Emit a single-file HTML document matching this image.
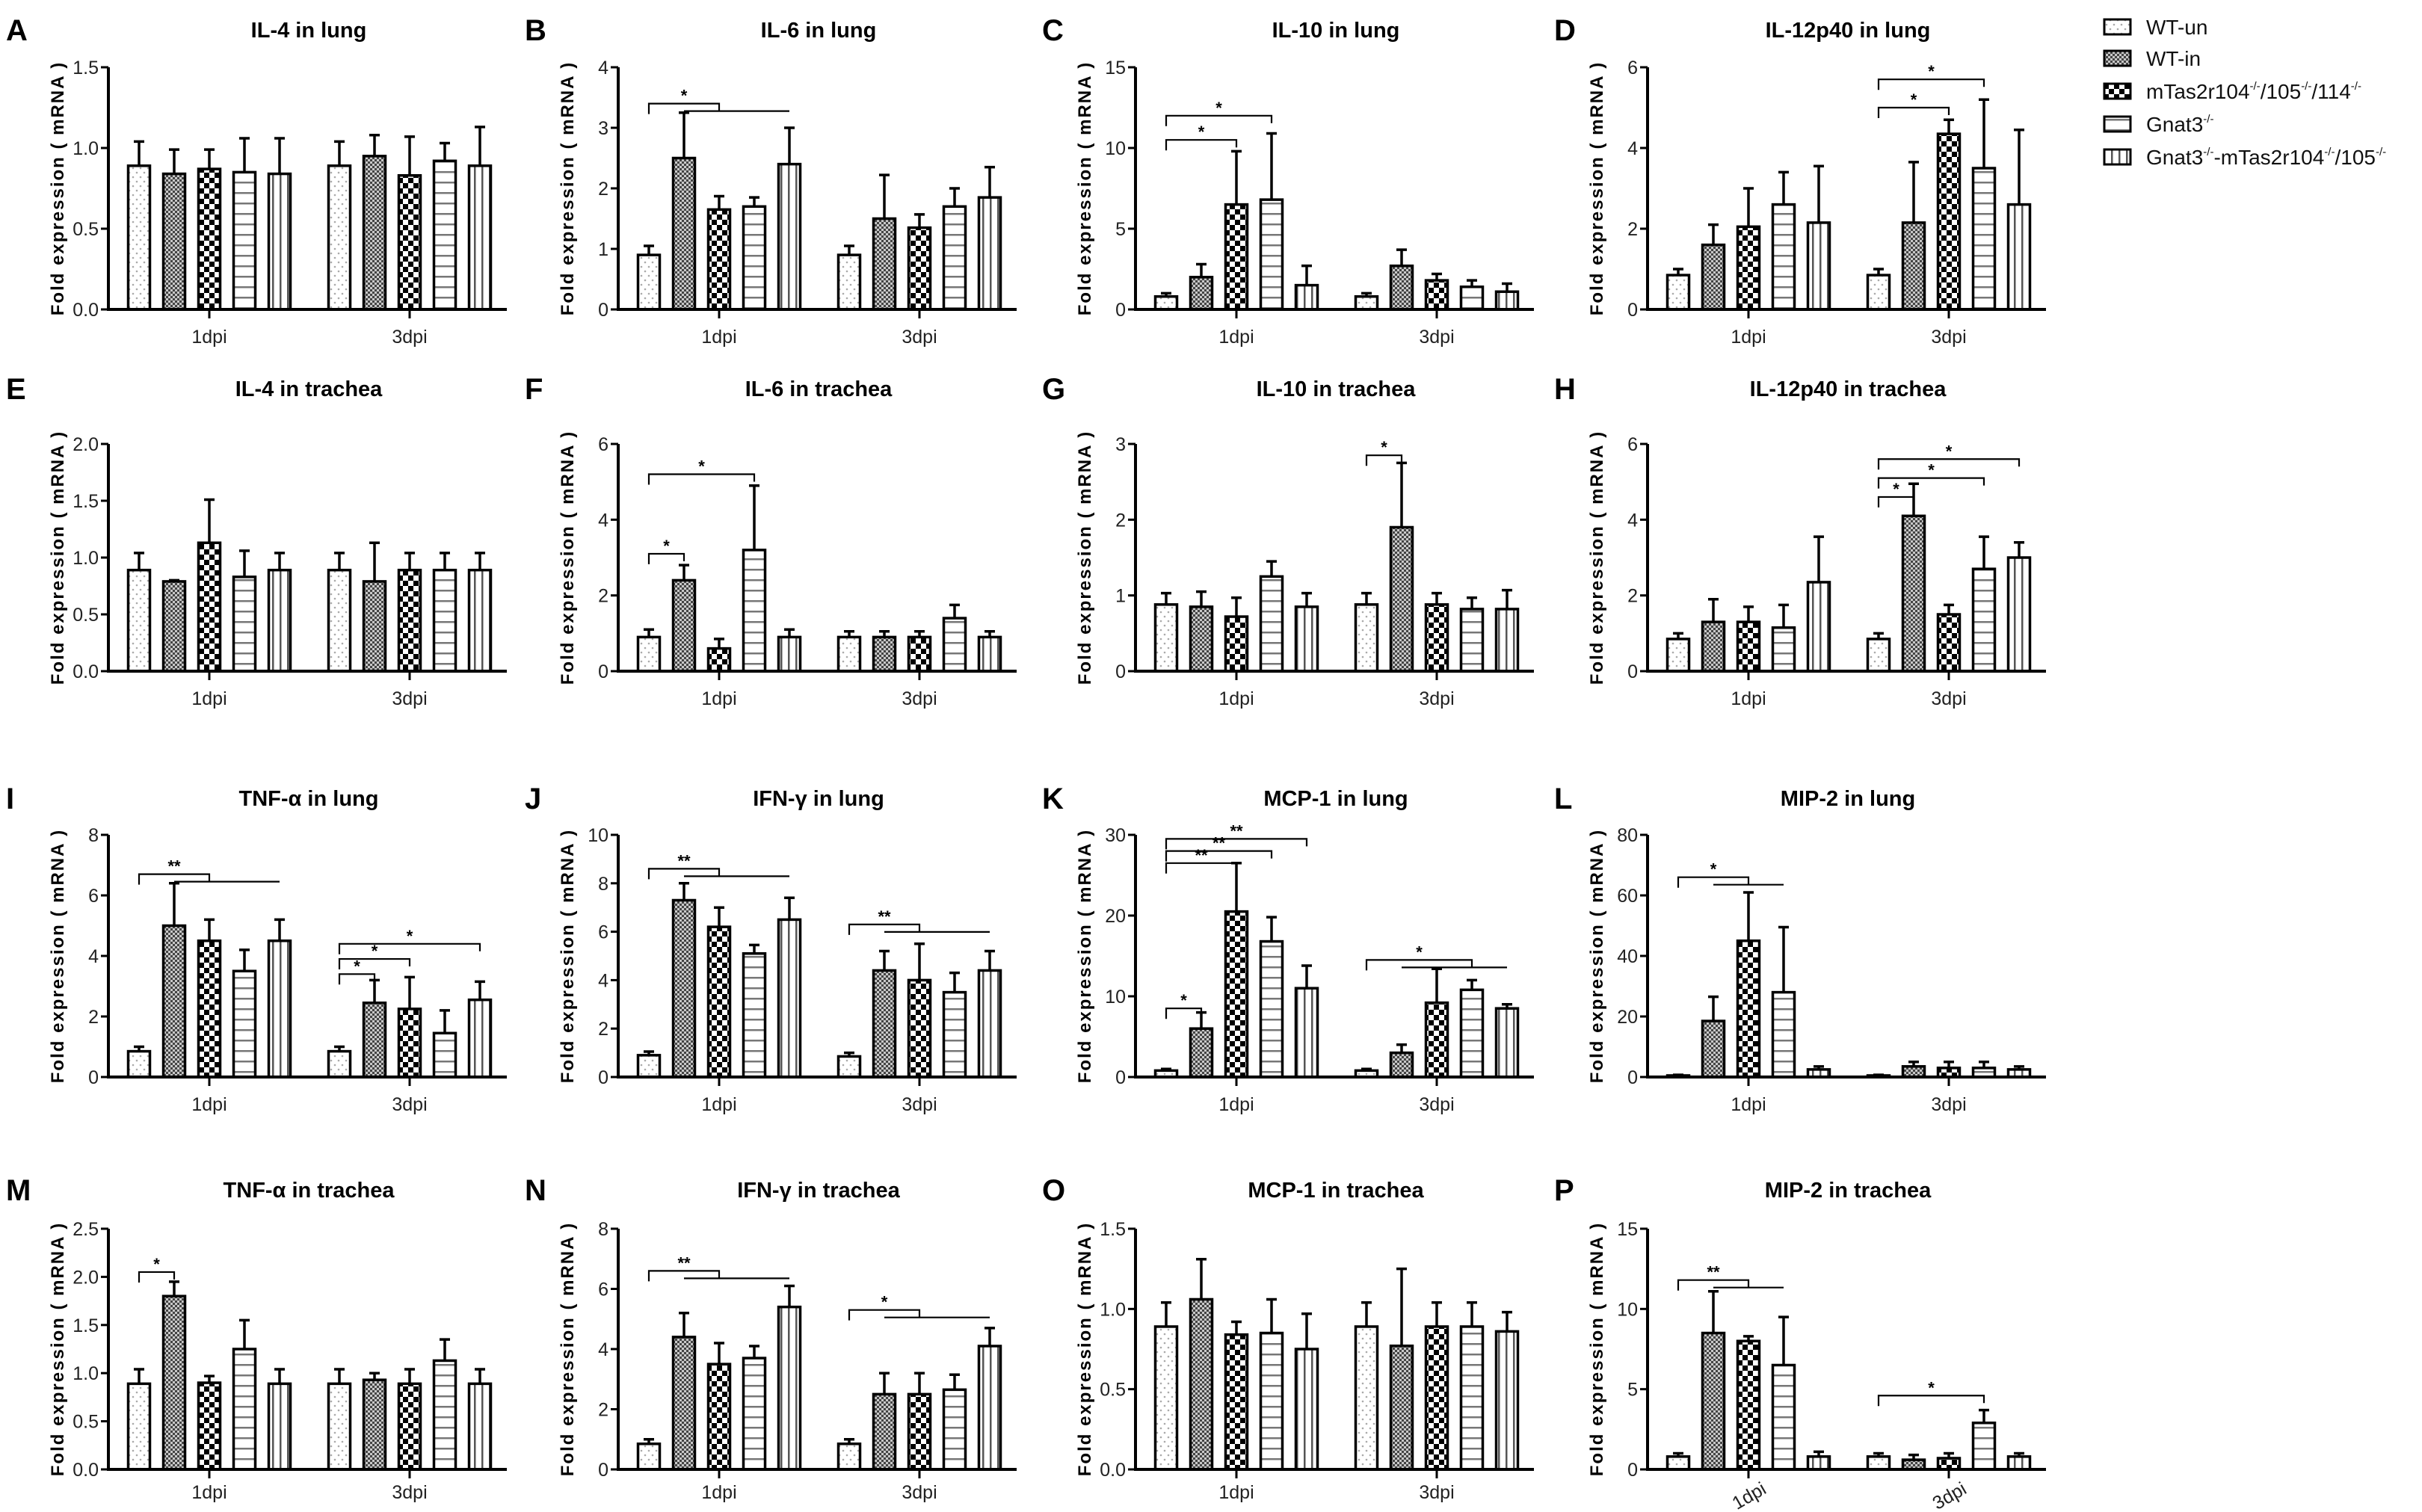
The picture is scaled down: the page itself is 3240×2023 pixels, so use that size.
<!DOCTYPE html>
<html><head><meta charset="utf-8">
<style>
html,body{margin:0;padding:0;background:#fff;}
svg{display:block;font-family:"Liberation Sans Narrow","Liberation Sans",Arial,sans-serif;}
</style></head>
<body>
<svg id="fig" xmlns="http://www.w3.org/2000/svg" width="3240" height="2023" viewBox="0 0 3240 2023">
<defs>
<pattern id="p0" patternUnits="userSpaceOnUse" width="10" height="12"><rect width="10" height="12" fill="#fff"/><circle cx="3" cy="3" r="1.3" fill="#aaa"/><circle cx="8" cy="9" r="1.3" fill="#aaa"/></pattern>
<pattern id="p1" patternUnits="userSpaceOnUse" width="6" height="6"><rect width="6" height="6" fill="#c8c8c8"/><rect width="3" height="3" fill="#444"/><rect x="3" y="3" width="3" height="3" fill="#444"/></pattern>
<pattern id="p2" patternUnits="userSpaceOnUse" width="14" height="14"><rect width="14" height="14" fill="#fff"/><rect width="7" height="7" fill="#000"/><rect x="7" y="7" width="7" height="7" fill="#000"/></pattern>
<pattern id="p3" patternUnits="userSpaceOnUse" width="10" height="14"><rect width="10" height="14" fill="#fff"/><rect y="5" width="10" height="2.5" fill="#777"/></pattern>
<pattern id="p4" patternUnits="userSpaceOnUse" width="10" height="10"><rect width="10" height="10" fill="#fff"/><rect x="4" width="2.5" height="10" fill="#555"/></pattern>
</defs>
<g id="panels"></g>
<g id="legend"></g>
</svg>
<script>
const groups = ['1dpi','3dpi'];
const seriesNames = ['WT-un','WT-in','mTas2r104','Gnat3','Gnat3-mTas2r104/105'];
const panelIds = ['A','B','C','D','E','F','G','H','I','J','K','L','M','N','O','P'];
const titles = ['IL-4 in lung','IL-6 in lung','IL-10 in lung','IL-12p40 in lung','IL-4 in trachea','IL-6 in trachea','IL-10 in trachea','IL-12p40 in trachea','TNF-α in lung','IFN-γ in lung','MCP-1 in lung','MIP-2 in lung','TNF-α in trachea','IFN-γ in trachea','MCP-1 in trachea','MIP-2 in trachea'];
const yMax = [1.5,4,15,6,2,6,3,6,8,10,30,80,2.5,8,1.5,15];
const yStep = [0.5,1,5,2,0.5,2,1,2,2,2,10,20,0.5,2,0.5,5];

const meanA=[[.89,.84,.87,.85,.84],[.89,.95,.83,.92,.89]], errA=[[.15,.15,.12,.21,.22],[.15,.13,.24,.11,.24]];
const meanB=[[.9,2.5,1.65,1.7,2.4],[.9,1.5,1.35,1.7,1.85]], errB=[[.15,.75,.22,.15,.6],[.15,.72,.22,.3,.5]];
const meanC=[[.8,2,6.5,6.8,1.5],[.8,2.7,1.8,1.4,1.1]], errC=[[.2,.8,3.3,4.1,1.2],[.2,1,.4,.4,.5]];
const meanD=[[.85,1.6,2.05,2.6,2.15],[.85,2.15,4.35,3.5,2.6]], errD=[[.15,.5,.95,.8,1.4],[.15,1.5,.35,1.7,1.85]];
const meanE=[[.89,.79,1.13,.83,.89],[.89,.79,.89,.89,.89]], errE=[[.15,.01,.38,.23,.15],[.15,.34,.15,.15,.15]];
const meanF=[[.9,2.4,.6,3.2,.9],[.9,.9,.9,1.4,.9]], errF=[[.2,.4,.25,1.7,.2],[.15,.15,.15,.35,.15]];
const meanG=[[.88,.85,.72,1.25,.85],[.88,1.9,.88,.82,.82]], errG=[[.15,.2,.25,.2,.18],[.15,.85,.15,.15,.25]];
const meanH=[[.85,1.3,1.3,1.15,2.35],[.85,4.1,1.5,2.7,3.0]], errH=[[.15,.6,.4,.6,1.2],[.15,.85,.25,.85,.4]];
const meanI=[[.85,5,4.5,3.5,4.5],[.85,2.45,2.25,1.45,2.55]], errI=[[.15,1.4,.7,.7,.7],[.15,.75,1.05,.75,.6]];
const meanJ=[[.9,7.3,6.2,5.1,6.5],[.85,4.4,4,3.5,4.4]], errJ=[[.15,.7,.8,.35,.9],[.15,.8,1.5,.8,.8]];
const meanK=[[.8,6,20.5,16.8,11],[.8,3,9.2,10.8,8.5]], errK=[[.2,2,6,3,2.8],[.2,1,4.2,1.2,.5]];
const meanL=[[.5,18.5,45,28,2.5],[.5,3.5,3,3,2.5]], errL=[[.2,8,16,21.5,1],[.2,1.5,2,2,1]];
const meanM=[[.89,1.8,.9,1.25,.89],[.89,.93,.89,1.13,.89]], errM=[[.15,.15,.07,.3,.15],[.15,.07,.15,.22,.15]];
const meanN=[[.85,4.4,3.5,3.7,5.4],[.85,2.5,2.5,2.65,4.1]], errN=[[.15,.8,.7,.4,.7],[.15,.7,.7,.5,.6]];
const meanO=[[.89,1.06,.84,.85,.75],[.89,.77,.89,.89,.86]], errO=[[.15,.25,.08,.21,.22],[.15,.48,.15,.15,.12]];
const meanP=[[.8,8.5,8,6.5,.8],[.8,.6,.7,2.9,.8]], errP=[[.2,2.6,.3,3,.3],[.2,.3,.3,.8,.2]];
const means=[meanA,meanB,meanC,meanD,meanE,meanF,meanG,meanH,meanI,meanJ,meanK,meanL,meanM,meanN,meanO,meanP];
const errs=[errA,errB,errC,errD,errE,errF,errG,errH,errI,errJ,errK,errL,errM,errN,errO,errP];
// significance brackets: [group, fromBar, toBar, yValue, label, extendToBar]
const sigB=[[0,0,2,3.4,'*',4]];
const sigC=[[0,0,2,10.5,'*'],[0,0,3,12,'*']];
const sigD=[[1,0,2,5.0,'*'],[1,0,3,5.7,'*']];
const sigF=[[0,0,1,3.1,'*'],[0,0,3,5.2,'*']];
const sigG=[[1,0,1,2.85,'*']];
const sigH=[[1,0,1,4.6,'*'],[1,0,3,5.1,'*'],[1,0,4,5.6,'*']];
const sigI=[[0,0,2,6.7,'**',4],[1,0,1,3.4,'*'],[1,0,2,3.9,'*'],[1,0,4,4.4,'*']];
const sigJ=[[0,0,2,8.6,'**',4],[1,0,2,6.3,'**',4]];
const sigK=[[0,0,1,8.5,'*'],[0,0,2,26.5,'**'],[0,0,3,28,'**'],[0,0,4,29.5,'**'],[1,0,3,14.5,'*',4]];
const sigL=[[0,0,2,66,'*',3]];
const sigM=[[0,0,1,2.05,'*']];
const sigN=[[0,0,2,6.6,'**',4],[1,0,2,5.3,'*',4]];
const sigP=[[0,0,2,11.8,'**',3],[1,0,3,4.6,'*']];
const sigs=[[],sigB,sigC,sigD,[],sigF,sigG,sigH,sigI,sigJ,sigK,sigL,sigM,sigN,[],sigP];

const NS='http://www.w3.org/2000/svg';
function mk(tag, attrs, parent){const e=document.createElementNS(NS,tag);for(const k in attrs)e.setAttribute(k,attrs[k]);parent.appendChild(e);return e;}
const colX=[145,827,1519,2204];
const rowTop=[90,594,1117,1644], rowZero=[414,898,1441,1966], rowTitle=[50,530,1078,1602], labOff=[45,45,45,39];
const L=533, gOff=[135,403], pitch=47, bw=29;
const root=document.getElementById('panels');

panelIds.forEach((id,p)=>{
  const col=p%4,row=Math.floor(p/4);
  const x0=colX[col], top=rowTop[row], zero=rowZero[row];
  const g=mk('g',{},root);
  
  
  const yS=v=>zero-(v/yMax[p])*(zero-top);
  const xS=(gi,bi)=>x0+gOff[gi]+(bi-2)*pitch;
  const letter=mk('text',{x:8,y:rowTitle[row]+4,'font-size':40,'font-weight':'bold'},g);
  if(col>0) letter.setAttribute('x',x0-125);
  letter.textContent=id;
  
  
  const t=mk('text',{x:x0+268,y:rowTitle[row],'font-size':29,'font-weight':'bold','text-anchor':'middle'},g);
  t.textContent=titles[p];
  
  
  const yl=mk('text',{transform:`translate(${x0-60},${(top+zero)/2}) rotate(-90)`,'font-size':24,'font-weight':'bold','letter-spacing':2,'text-anchor':'middle'},g);
  yl.textContent='Fold expression ( mRNA )';
  
  
  for(let gi=0;gi<2;gi++){for(let bi=0;bi<5;bi++){
    const m=means[p][gi][bi], e=errs[p][gi][bi], cx=xS(gi,bi);
    const er=mk('path',{d:`M${cx},${yS(m)}V${yS(m+e)}M${cx-7},${yS(m+e)}H${cx+7}`,stroke:'#000','stroke-width':3.5,fill:'none'},g);
    
    
    const r=mk('rect',{x:cx-bw/2,y:yS(m),width:bw,height:zero-yS(m),fill:`url(#p${bi})`,stroke:'#000','stroke-width':3.5},g);
    
    
  }}
  const ax=mk('path',{d:`M${x0},${top}V${zero}H${x0+L}`,stroke:'#000','stroke-width':4,fill:'none'},g);
  
  
  const dec=yStep[p]<1?1:0;
  for(let v=0;v<=yMax[p]+1e-9;v+=yStep[p]){
    mk('path',{d:`M${x0-10},${yS(v)}H${x0}`,stroke:'#000','stroke-width':3},g);
    const tl=mk('text',{x:x0-13,y:yS(v)+9,'font-size':25,'text-anchor':'end',fill:'#222'},g);
    tl.textContent=v.toFixed(dec);
    
    
  }
  groups.forEach((gn,gi)=>{
    const cx=x0+gOff[gi];
    mk('path',{d:`M${cx},${zero}V${zero+12}`,stroke:'#000','stroke-width':3},g);
    const xl=mk('text',{x:cx,y:zero+labOff[row],'font-size':25,'text-anchor':'middle',fill:'#222'},g);
    if(id==='P'){xl.setAttribute('transform',`rotate(-30 ${cx} ${zero+34})`);xl.setAttribute('y',zero+44);}
    xl.textContent=gn;
    
    
  });
  sigs[p].forEach(s=>{
    const [gi,a,b,v,lab,ext]=s;
    const xa=xS(gi,a), xb=xS(gi,b), y=yS(v);
    let d=`M${xa},${y+14}V${y}H${xb}V${y+10}`;
    if(ext!==undefined) d+=`M${xS(gi,a+1)},${y+10}H${xS(gi,ext)}`;
    const br=mk('path',{d:d,stroke:'#000','stroke-width':2.2,fill:'none'},g);
    
    
    const st=mk('text',{x:(xa+xb)/2,y:y-3,'font-size':22,'text-anchor':'middle','font-weight':'bold'},g);
    st.textContent=lab;
    
    
  });
});

const lg=document.getElementById('legend');
const legendLabels=[['WT-un'],['WT-in'],['mTas2r104','-/-','/105','-/-','/114','-/-'],['Gnat3','-/-'],['Gnat3','-/-','-mTas2r104','-/-','/105','-/-']];
const legY=[36,78,122,166,210];
legendLabels.forEach((parts,i)=>{
  const it=mk('g',{},lg);
  
  
  mk('rect',{x:2815,y:legY[i]-10,width:35,height:20,fill:`url(#p${i})`,stroke:'#000','stroke-width':3},it);
  const tx=mk('text',{x:2871,y:legY[i]+10,'font-size':28,fill:'#111'},it);
  parts.forEach((pt,k)=>{
    const ts=mk('tspan',{},tx);
    if(k%2===1){ts.setAttribute('font-size',15);ts.setAttribute('dy',-12);}
    else if(k>0){ts.setAttribute('dy',12);}
    ts.textContent=pt;
  });
});
</script>
</body></html>
